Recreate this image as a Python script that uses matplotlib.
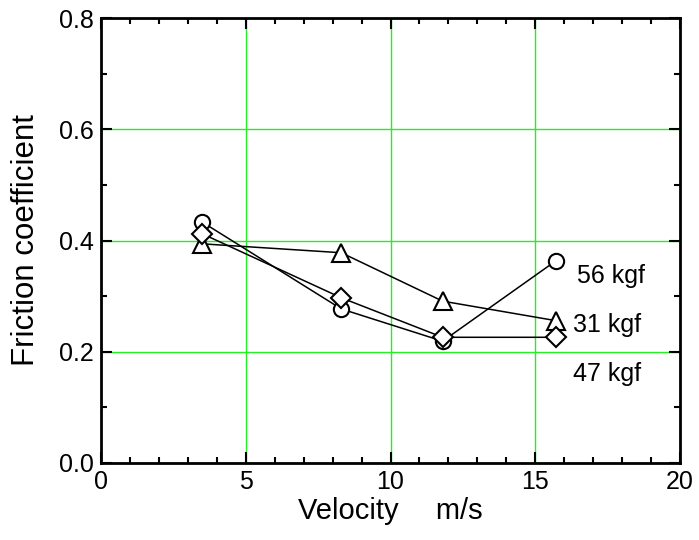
import matplotlib
matplotlib.use('Agg')
import matplotlib.pyplot as plt
from matplotlib.ticker import MultipleLocator

plt.rcParams['font.family'] = ['Liberation Sans', 'DejaVu Sans']

# velocity (m/s)
velocity = [3.5, 8.3, 11.8, 15.7]
# friction coefficient for each load
mu_56 = [0.433, 0.277, 0.219, 0.363]
mu_31 = [0.394, 0.378, 0.291, 0.256]
mu_47 = [0.412, 0.297, 0.226, 0.226]
load_labels = ['56 kgf', '31 kgf', '47 kgf']

fig = plt.figure(figsize=(6.99, 5.40), dpi=100)
ax = fig.add_axes([101/699, 1-463/540, 579/699, 445/540])

# draw the three series
ax.plot(velocity, mu_56, '-o', color='k', lw=1.1, ms=11, mfc='white', mec='k', mew=1.5, zorder=3)
ax.plot(velocity, mu_31, '-^', color='k', lw=1.1, ms=13, mfc='white', mec='k', mew=1.5, zorder=3)
ax.plot(velocity, mu_47, '-D', color='k', lw=1.1, ms=10, mfc='white', mec='k', mew=1.5, zorder=3)

# text labels next to the last points
ax.text(16.45, 0.336, load_labels[0], fontsize=18, va='center', ha='left')
ax.text(16.3, 0.248, load_labels[1], fontsize=18, va='center', ha='left')
ax.text(16.3, 0.160, load_labels[2], fontsize=18, va='center', ha='left')

ax.set_xlim(0, 20)
ax.set_ylim(0, 0.8)
ax.xaxis.set_minor_locator(MultipleLocator(1))
ax.yaxis.set_minor_locator(MultipleLocator(0.1))
ax.set_xticks([0, 5, 10, 15, 20])
ax.set_xticklabels(['0', '5', '10', '15', '20'])
ax.set_yticks([0, 0.2, 0.4, 0.6, 0.8])
ax.set_yticklabels(['0.0', '0.2', '0.4', '0.6', '0.8'])

ax.grid(True, which='major', color='#22f022', lw=1.0)
ax.tick_params(which='both', direction='in', top=True, right=True, labelsize=18, width=1.5)
ax.tick_params(which='major', length=8, pad=5)
ax.tick_params(which='minor', length=4)
for s in ax.spines.values():
    s.set_linewidth(2)

ax.set_xlabel('Velocity\u2003 m/s', fontsize=21, labelpad=2)
ax.set_ylabel('Friction coefficient', fontsize=22.5, labelpad=13)

fig.savefig('out.png', dpi=100)
